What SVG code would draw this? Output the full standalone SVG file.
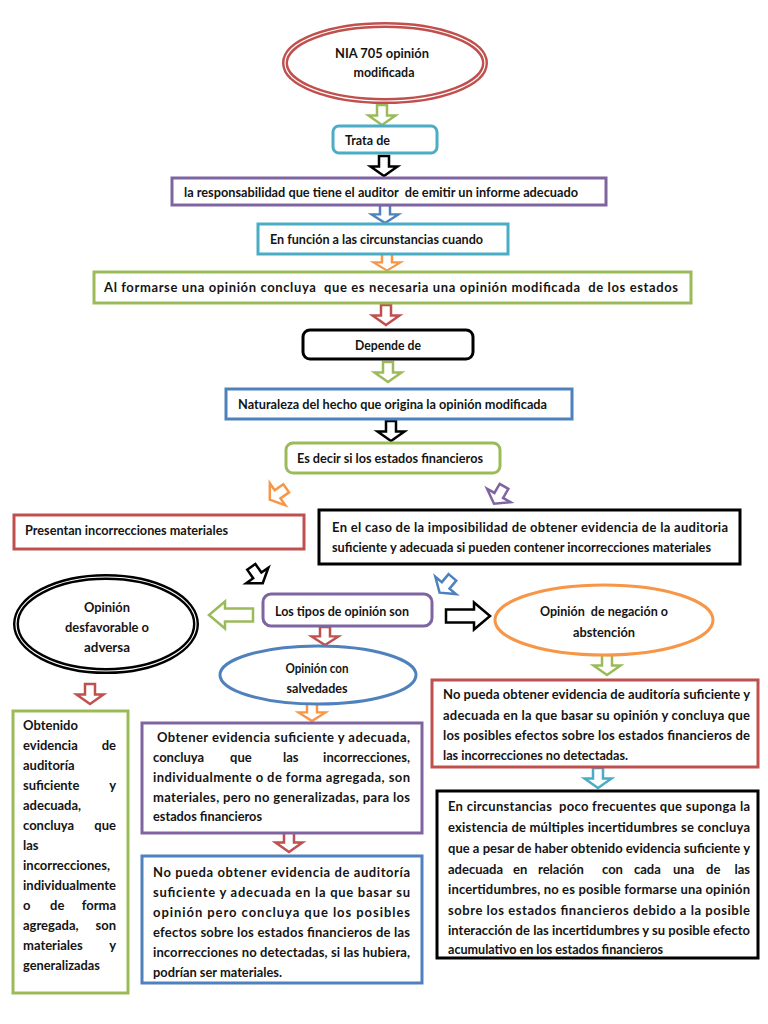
<svg xmlns="http://www.w3.org/2000/svg" width="768" height="1024" viewBox="0 0 768 1024">
<style>
.t{font-family:Lato,"Liberation Sans",sans-serif;font-size:13px;font-weight:700;fill:#141414}
.m{text-anchor:middle}
.e{text-anchor:end}
.box{fill:#fff;stroke-width:3}
.ar{fill:#fff;stroke-width:2.5;stroke-linejoin:miter}
.red{stroke:#c0504d}.grn{stroke:#9bbb59}.blu{stroke:#4f81bd}.cyn{stroke:#4bacc6}.pur{stroke:#8064a2}.org{stroke:#f79646}.blk{stroke:#000}
</style>
<defs>
<path id="dn" d="M-5,-10H5V0.5H13.5L0,10L-13.5,0.5H-5Z"/>
<path id="rt" d="M-22,-6.5H6V-13.5L22,0L6,13.5V6.5H-22Z"/>
</defs>
<rect width="768" height="1024" fill="#fff"/>

<g id="connectors">
<use href="#dn" class="ar grn" transform="translate(382,115)"/>
<use href="#dn" class="ar blk" transform="translate(384,166)"/>
<use href="#dn" class="ar blu" transform="translate(385,214) scale(1,0.9)"/>
<use href="#dn" class="ar org" transform="translate(387,262) scale(1,0.85)"/>
<use href="#dn" class="ar red" transform="translate(386,315)"/>
<use href="#dn" class="ar grn" transform="translate(388,372)"/>
<use href="#dn" class="ar blk" transform="translate(391,431)"/>
<use href="#dn" class="ar org" transform="translate(278,494) rotate(55)"/>
<use href="#dn" class="ar pur" transform="translate(499,495) rotate(30)"/>
<use href="#dn" class="ar blk" transform="translate(257,575) rotate(-35)"/>
<use href="#dn" class="ar blu" transform="translate(446,585) rotate(40)"/>
<use href="#rt" class="ar grn" transform="translate(231,615) rotate(180)"/>
<use href="#rt" class="ar blk" transform="translate(468,616)"/>
<use href="#dn" class="ar red" transform="translate(325,636) scale(1,0.9)"/>
<use href="#dn" class="ar red" transform="translate(90,694)"/>
<use href="#dn" class="ar org" transform="translate(312,712) scale(1,0.9)"/>
<use href="#dn" class="ar red" transform="translate(289,842)"/>
<use href="#dn" class="ar grn" transform="translate(607,665)"/>
<use href="#dn" class="ar cyn" transform="translate(598,778)"/>
</g>

<g id="n1">
<ellipse cx="385" cy="63" rx="100" ry="38" fill="#fff" stroke="#c0504d" stroke-width="6"/>
<ellipse cx="385" cy="63" rx="100" ry="38" fill="none" stroke="#fff" stroke-width="1.2"/>
<text class="t m" x="382" y="58" textLength="94" lengthAdjust="spacingAndGlyphs">NIA 705 opinión</text>
<text class="t m" x="384" y="77" textLength="61" lengthAdjust="spacingAndGlyphs">modificada</text>
</g>

<g id="n2">
<rect class="box cyn" x="333" y="126" width="104" height="27" rx="6"/>
<text class="t" x="345" y="145" textLength="45" lengthAdjust="spacingAndGlyphs">Trata de</text>
</g>

<g id="n3">
<rect class="box pur" x="172" y="178" width="434" height="27"/>
<text class="t" x="184" y="197" textLength="394" lengthAdjust="spacingAndGlyphs" xml:space="preserve">la responsabilidad que tiene el auditor  de emitir un informe adecuado</text>
</g>

<g id="n4">
<rect class="box cyn" x="258" y="224" width="250" height="30"/>
<text class="t" x="270" y="244" textLength="213" lengthAdjust="spacingAndGlyphs">En función a las circunstancias cuando</text>
</g>

<g id="n5">
<rect class="box grn" x="94" y="272" width="597" height="31"/>
<text class="t" x="104" y="292" textLength="574" lengthAdjust="spacing" xml:space="preserve">Al formarse una opinión concluya  que es necesaria una opinión modificada  de los estados</text>
</g>

<g id="n6">
<rect class="box blk" x="303" y="330" width="170" height="29" rx="7" stroke-width="3.5"/>
<text class="t m" x="388" y="350" textLength="66" lengthAdjust="spacingAndGlyphs">Depende de</text>
</g>

<g id="n7">
<rect class="box blu" x="226" y="389" width="346" height="30"/>
<text class="t" x="238" y="409" textLength="309" lengthAdjust="spacingAndGlyphs">Naturaleza del hecho que origina la opinión modificada</text>
</g>

<g id="n8">
<rect class="box grn" x="286" y="443" width="214" height="30" rx="7"/>
<text class="t" x="297" y="463" textLength="186" lengthAdjust="spacingAndGlyphs">Es decir si los estados financieros</text>
</g>

<g id="n9">
<rect class="box red" x="14" y="515" width="290" height="34"/>
<text class="t" x="25" y="535" textLength="203" lengthAdjust="spacingAndGlyphs">Presentan incorrecciones materiales</text>
</g>

<g id="n10">
<rect class="box blk" x="319" y="510" width="421" height="54" stroke-width="4"/>
<text class="t" x="332" y="532" textLength="396" lengthAdjust="spacing">En el caso de la imposibilidad de obtener evidencia de la auditoria</text>
<text class="t" x="332" y="552" textLength="379" lengthAdjust="spacingAndGlyphs">suficiente y adecuada si pueden contener incorrecciones materiales</text>
</g>

<g id="n11">
<rect class="box pur" x="263" y="594" width="169" height="32" rx="8"/>
<text class="t" x="275" y="616" textLength="134" lengthAdjust="spacingAndGlyphs">Los tipos de opinión son</text>
</g>

<g id="n12">
<ellipse cx="106" cy="624" rx="90" ry="47" fill="#fff" stroke="#000" stroke-width="6"/>
<ellipse cx="106" cy="624" rx="90" ry="47" fill="none" stroke="#fff" stroke-width="1.2"/>
<text class="t m" x="107" y="612" textLength="46" lengthAdjust="spacingAndGlyphs">Opinión</text>
<text class="t m" x="107" y="632" textLength="84" lengthAdjust="spacingAndGlyphs">desfavorable o</text>
<text class="t m" x="107" y="652" textLength="46" lengthAdjust="spacingAndGlyphs">adversa</text>
</g>

<g id="n13">
<ellipse cx="318" cy="675" rx="98" ry="29" fill="#fff" stroke="#4f81bd" stroke-width="3"/>
<text class="t m" x="317" y="673" textLength="63" lengthAdjust="spacingAndGlyphs">Opinión con</text>
<text class="t m" x="317" y="693" textLength="61" lengthAdjust="spacingAndGlyphs">salvedades</text>
</g>

<g id="n14">
<ellipse cx="604" cy="620" rx="109" ry="35" fill="#fff" stroke="#f79646" stroke-width="3"/>
<text class="t m" x="604" y="616" textLength="128" lengthAdjust="spacingAndGlyphs" xml:space="preserve">Opinión  de negación o</text>
<text class="t m" x="604" y="637" textLength="62" lengthAdjust="spacingAndGlyphs">abstención</text>
</g>

<g id="n15">
<rect class="box red" x="432" y="680" width="326" height="87"/>
<text class="t" x="443" y="699" textLength="307" lengthAdjust="spacing">No pueda obtener evidencia de auditoría suficiente y</text>
<text class="t" x="443" y="720" textLength="307" lengthAdjust="spacing">adecuada en la que basar su opinión y concluya que</text>
<text class="t" x="443" y="740" textLength="307" lengthAdjust="spacing">los posibles efectos sobre los estados financieros de</text>
<text class="t" x="443" y="760" textLength="185" lengthAdjust="spacingAndGlyphs">las incorrecciones no detectadas.</text>
</g>

<g id="n16">
<rect class="box blk" x="437" y="791" width="321" height="167" stroke-width="4"/>
<text class="t" x="448" y="811" textLength="302" lengthAdjust="spacing" xml:space="preserve">En circunstancias  poco frecuentes que suponga la</text>
<text class="t" x="448" y="832" textLength="302" lengthAdjust="spacing">existencia de múltiples incertidumbres se concluya</text>
<text class="t" x="448" y="853" textLength="302" lengthAdjust="spacing">que a pesar de haber obtenido evidencia suficiente y</text>
<text class="t" x="448" y="874">adecuada</text>
<text class="t" x="513" y="874">en</text>
<text class="t" x="538" y="874">relación</text>
<text class="t" x="602" y="874">con</text>
<text class="t" x="634" y="874">cada</text>
<text class="t" x="673" y="874">una</text>
<text class="t" x="706" y="874">de</text>
<text class="t e" x="750" y="874">las</text>
<text class="t" x="448" y="894" textLength="302" lengthAdjust="spacing">incertidumbres, no es posible formarse una opinión</text>
<text class="t" x="448" y="915" textLength="302" lengthAdjust="spacing">sobre los estados financieros debido a la posible</text>
<text class="t" x="448" y="935" textLength="302" lengthAdjust="spacing">interacción de las incertidumbres y su posible efecto</text>
<text class="t" x="448" y="954" textLength="215" lengthAdjust="spacingAndGlyphs">acumulativo en los estados financieros</text>
</g>

<g id="n17">
<rect class="box grn" x="13" y="711" width="115" height="282"/>
<text class="t" x="23" y="730">Obtenido</text>
<text class="t" x="23" y="750">evidencia</text><text class="t e" x="116" y="750">de</text>
<text class="t" x="23" y="770">auditoría</text>
<text class="t" x="23" y="790">suficiente</text><text class="t e" x="116" y="790">y</text>
<text class="t" x="23" y="810">adecuada,</text>
<text class="t" x="23" y="830">concluya</text><text class="t e" x="116" y="830">que</text>
<text class="t" x="23" y="850">las</text>
<text class="t" x="23" y="870" textLength="87" lengthAdjust="spacingAndGlyphs">incorrecciones,</text>
<text class="t" x="23" y="890" textLength="93" lengthAdjust="spacingAndGlyphs">individualmente</text>
<text class="t" x="23" y="910">o</text><text class="t" x="50" y="910">de</text><text class="t e" x="116" y="910">forma</text>
<text class="t" x="23" y="930">agregada,</text><text class="t e" x="116" y="930">son</text>
<text class="t" x="23" y="950">materiales</text><text class="t e" x="116" y="950">y</text>
<text class="t" x="23" y="970" textLength="77" lengthAdjust="spacingAndGlyphs">generalizadas</text>
</g>

<g id="n18">
<rect class="box pur" x="142" y="723" width="280" height="110"/>
<text class="t" x="157" y="742" textLength="253" lengthAdjust="spacing">Obtener evidencia suficiente y adecuada,</text>
<text class="t" x="153" y="762">concluya</text>
<text class="t" x="230" y="762">que</text>
<text class="t" x="283" y="762">las</text>
<text class="t e" x="410" y="762">incorrecciones,</text>
<text class="t" x="153" y="782" textLength="257" lengthAdjust="spacing">individualmente o de forma agregada, son</text>
<text class="t" x="153" y="802" textLength="257" lengthAdjust="spacing">materiales, pero no generalizadas, para los</text>
<text class="t" x="153" y="821" textLength="109" lengthAdjust="spacingAndGlyphs">estados financieros</text>
</g>

<g id="n19">
<rect class="box blu" x="142" y="856" width="280" height="127"/>
<text class="t" x="153" y="877" textLength="257" lengthAdjust="spacing">No pueda obtener evidencia de auditoría</text>
<text class="t" x="153" y="897" textLength="257" lengthAdjust="spacing">suficiente y adecuada en la que basar su</text>
<text class="t" x="153" y="917" textLength="257" lengthAdjust="spacing">opinión pero concluya que los posibles</text>
<text class="t" x="153" y="937" textLength="257" lengthAdjust="spacing">efectos sobre los estados financieros de las</text>
<text class="t" x="153" y="957" textLength="257" lengthAdjust="spacing">incorrecciones no detectadas, si las hubiera,</text>
<text class="t" x="153" y="977" textLength="129" lengthAdjust="spacingAndGlyphs">podrían ser materiales.</text>
</g>
</svg>
